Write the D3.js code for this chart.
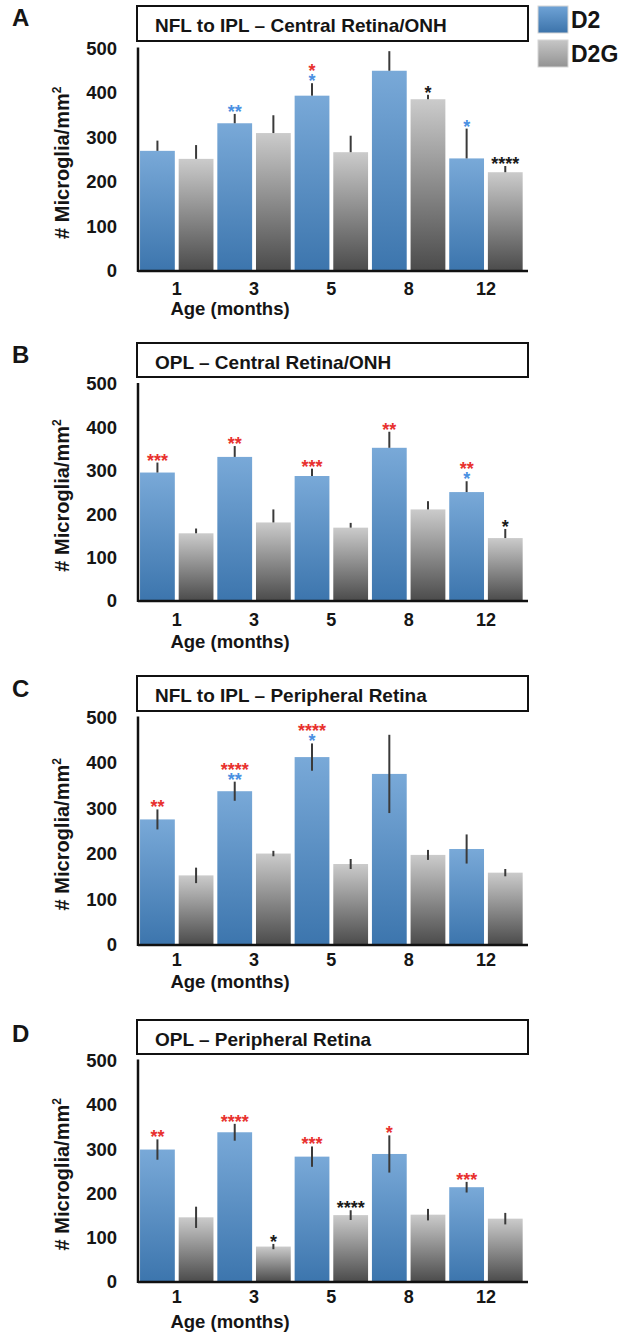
<!DOCTYPE html>
<html>
<head>
<meta charset="utf-8">
<script src="https://cdn.jsdelivr.net/npm/d3@7"></script>
<style>
body{margin:0;background:#fff;}
svg text{font-family:"Liberation Sans",Arial,Helvetica,sans-serif;font-weight:bold;fill:#151515;}
</style>
</head>
<body>
<div id="container"></div>
<script>
// categories
let ages = ["1", "3", "5", "8", "12"];
let series = ["D2", "D2G"];
let yTicks = [0, 100, 200, 300, 400, 500];
let titles = ["NFL to IPL \u2013 Central Retina/ONH", "OPL \u2013 Central Retina/ONH",
              "NFL to IPL \u2013 Peripheral Retina", "OPL \u2013 Peripheral Retina"];
let letters = ["A", "B", "C", "D"];

// A - NFL to IPL, central
let aD2 = [270, 332, 394, 450, 253];
let aD2Err = [23, 21, 28, 44, 67];
let aD2G = [252, 310, 267, 386, 222];
let aD2GErr = [31, 40, 37, 10, 14];
// B - OPL, central
let bD2 = [296, 332, 288, 353, 251];
let bD2Err = [23, 25, 17, 37, 25];
let bD2G = [156, 181, 169, 211, 145];
let bD2GErr = [11, 30, 11, 19, 21];
// C - NFL to IPL, peripheral
let cD2 = [276, 338, 413, 376, 211];
let cD2Err = [22, 21, 30, 86, 32];
let cD2G = [153, 201, 178, 198, 159];
let cD2GErr = [17, 6, 11, 11, 8];
// D - OPL, peripheral
let dD2 = [299, 338, 283, 289, 214];
let dD2Err = [23, 19, 23, 42, 12];
let dD2G = [146, 80, 151, 152, 143];
let dD2GErr = [24, 6, 11, 13, 13];

// significance marks per bar, listed bottom to top
// strain = D2 vs D2G, ageD2 / ageD2G = vs same strain at 1 month
let aD2Sig = [[], [["**", "ageD2"]], [["*", "ageD2"], ["*", "strain"]], [], [["*", "ageD2"]]];
let aD2GSig = [[], [], [], [["*", "ageD2G"]], [["****", "ageD2G"]]];
let bD2Sig = [[["***", "strain"]], [["**", "strain"]], [["***", "strain"]], [["**", "strain"]], [["*", "ageD2"], ["**", "strain"]]];
let bD2GSig = [[], [], [], [], [["*", "ageD2G"]]];
let cD2Sig = [[["**", "strain"]], [["**", "ageD2"], ["****", "strain"]], [["*", "ageD2"], ["****", "strain"]], [], []];
let cD2GSig = [[], [], [], [], []];
let dD2Sig = [[["**", "strain"]], [["****", "strain"]], [["***", "strain"]], [["*", "strain"]], [["***", "strain"]]];
let dD2GSig = [[], [["*", "ageD2G"]], [["****", "ageD2G"]], [], []];

let panelData = [
    {d2: aD2, d2e: aD2Err, d2g: aD2G, d2ge: aD2GErr, s2: aD2Sig, s2g: aD2GSig, twoSided: false},
    {d2: bD2, d2e: bD2Err, d2g: bD2G, d2ge: bD2GErr, s2: bD2Sig, s2g: bD2GSig, twoSided: false},
    {d2: cD2, d2e: cD2Err, d2g: cD2G, d2ge: cD2GErr, s2: cD2Sig, s2g: cD2GSig, twoSided: true},
    {d2: dD2, d2e: dD2Err, d2g: dD2G, d2ge: dD2GErr, s2: dD2Sig, s2g: dD2GSig, twoSided: true}
];

let w = 624, h = 1336;
let layout = [
    {top: 6, bottom: 41, titleY: 32, letterY: 26, y500: 48.5, y0: 271, tickY: 295, ageY: 315},
    {top: 343, bottom: 377, titleY: 369, letterY: 363, y500: 384, y0: 601, tickY: 626, ageY: 648},
    {top: 676, bottom: 711, titleY: 702, letterY: 697, y500: 717.5, y0: 945, tickY: 966, ageY: 988},
    {top: 1020, bottom: 1054, titleY: 1046, letterY: 1042, y500: 1060.5, y0: 1282, tickY: 1303, ageY: 1328}
];
let axisX = 138, axisRight = 528, boxLeft = 137, boxRight = 528;
let sigColor = {strain: "#e8312e", ageD2: "#4a90e2", ageD2G: "#1a1a1a"};

let svg = d3.select("div#container").append("svg")
    .attr("width", w).attr("height", h)
    .attr("viewBox", "0 0 " + w + " " + h);

let defs = svg.append("defs");
function grad(id, top, bottom) {
    let g = defs.append("linearGradient").attr("id", id)
        .attr("x1", 0).attr("y1", 0).attr("x2", 0).attr("y2", 1);
    g.append("stop").attr("offset", "0%").attr("stop-color", top);
    g.append("stop").attr("offset", "100%").attr("stop-color", bottom);
}
grad("gD2", "#79a9d8", "#3c75ad");
grad("gD2G", "#cbcbcb", "#4b4b4b");
grad("lD2", "#6fa3d6", "#3c73aa");
grad("lD2G", "#c6c6c6", "#939393");

function label(g, x, y, s, size, anchor) {
    return g.append("text")
        .attr("x", x).attr("y", y)
        .attr("text-anchor", anchor || "start")
        .style("font-size", size + "px")
        .text(s);
}

let x0 = d3.scaleBand().domain(ages).range([138.1, 524.6]).padding(0);
let x1 = d3.scaleBand().domain(series).range([0, x0.bandwidth()])
    .paddingInner(0.1).paddingOuter(0.05);

panelData.forEach((pd, i) => {
    let L = layout[i];
    let g = svg.append("g");
    let y = d3.scaleLinear().domain([0, 500]).range([L.y0, L.y500]);

    // panel letter
    label(g, 12, L.letterY, letters[i], 24);

    // title box
    g.append("rect")
        .attr("x", boxLeft).attr("y", L.top)
        .attr("width", boxRight - boxLeft).attr("height", L.bottom - L.top)
        .attr("fill", "#fff").attr("stroke", "#111").attr("stroke-width", 2);
    label(g, 155, L.titleY, titles[i], 19);

    // bars
    let rows = [];
    ages.forEach((a, k) => {
        rows.push({age: a, s: "D2", v: pd.d2[k], e: pd.d2e[k], sig: pd.s2[k]});
        rows.push({age: a, s: "D2G", v: pd.d2g[k], e: pd.d2ge[k], sig: pd.s2g[k]});
    });
    let cx = d => x0(d.age) + x1(d.s) + x1.bandwidth() / 2;

    g.selectAll("rect.bar").data(rows).enter().append("rect")
        .attr("class", "bar")
        .attr("x", d => x0(d.age) + x1(d.s))
        .attr("width", x1.bandwidth())
        .attr("y", d => y(d.v))
        .attr("height", d => y(0) - y(d.v))
        .attr("fill", d => d.s == "D2" ? "url(#gD2)" : "url(#gD2G)");

    // error bars
    g.selectAll("line.err").data(rows).enter().append("line")
        .attr("class", "err")
        .attr("x1", cx).attr("x2", cx)
        .attr("y1", d => pd.twoSided ? y(d.v - d.e) : y(d.v))
        .attr("y2", d => y(d.v + d.e))
        .attr("stroke", "#3a3a3a").attr("stroke-width", 2);

    // significance stars, one text per bar with a line per test
    rows.filter(d => d.sig.length).forEach(d => {
        let t = g.append("text")
            .attr("transform", "translate(" + cx(d) + "," + (y(d.v + d.e) + 4) + ")")
            .attr("text-anchor", "middle")
            .style("font-size", "18px");
        d.sig.forEach((m, j) => {
            t.append("tspan").attr("x", 0).attr("y", -j * 10)
                .style("fill", sigColor[m[1]])
                .text(m[0]);
        });
    });

    // y axis
    let ya = g.append("g").attr("transform", "translate(" + axisX + ",0)")
        .call(d3.axisLeft(y).tickValues(yTicks).tickSize(0).tickPadding(21));
    ya.select(".domain").remove();
    ya.selectAll("text")
        .style("font-size", "18.5px")
        .attr("fill", null);

    // x axis
    let xa = g.append("g").attr("transform", "translate(0," + L.y0 + ")")
        .call(d3.axisBottom(x0).tickSize(0).tickPadding(L.tickY - L.y0 - 12.8));
    xa.select(".domain").remove();
    xa.selectAll("text")
        .style("font-size", "18px")
        .attr("fill", null);

    // axis lines
    g.append("line").attr("x1", axisX).attr("x2", axisX)
        .attr("y1", L.y500 - 1).attr("y2", L.y0 + 1)
        .attr("stroke", "#111").attr("stroke-width", 2.5);
    g.append("line").attr("x1", axisX).attr("x2", axisRight)
        .attr("y1", L.y0).attr("y2", L.y0)
        .attr("stroke", "#111").attr("stroke-width", 2.5);

    // axis titles
    label(g, 230, L.ageY, "Age (months)", 18.5, "middle");
    let yt = g.append("text")
        .attr("transform", "translate(69," + ((L.y0 + L.y500) / 2 + 3) + ") rotate(-90)")
        .attr("text-anchor", "middle")
        .style("font-size", "20px");
    yt.append("tspan").text("# Microglia/mm");
    yt.append("tspan").attr("dy", -8).style("font-size", "12px").text("2");
});

// legend
let lg = svg.append("g");
[["D2", "url(#lD2)", 6, 28], ["D2G", "url(#lD2G)", 40, 62]].forEach(r => {
    lg.append("rect").attr("x", 538).attr("y", r[2]).attr("width", 30).attr("height", 27)
        .attr("fill", r[1]).attr("stroke", "#d6d6d6").attr("stroke-width", 1);
    label(lg, 571, r[3], r[0], 23);
});
</script>
</body>
</html>
